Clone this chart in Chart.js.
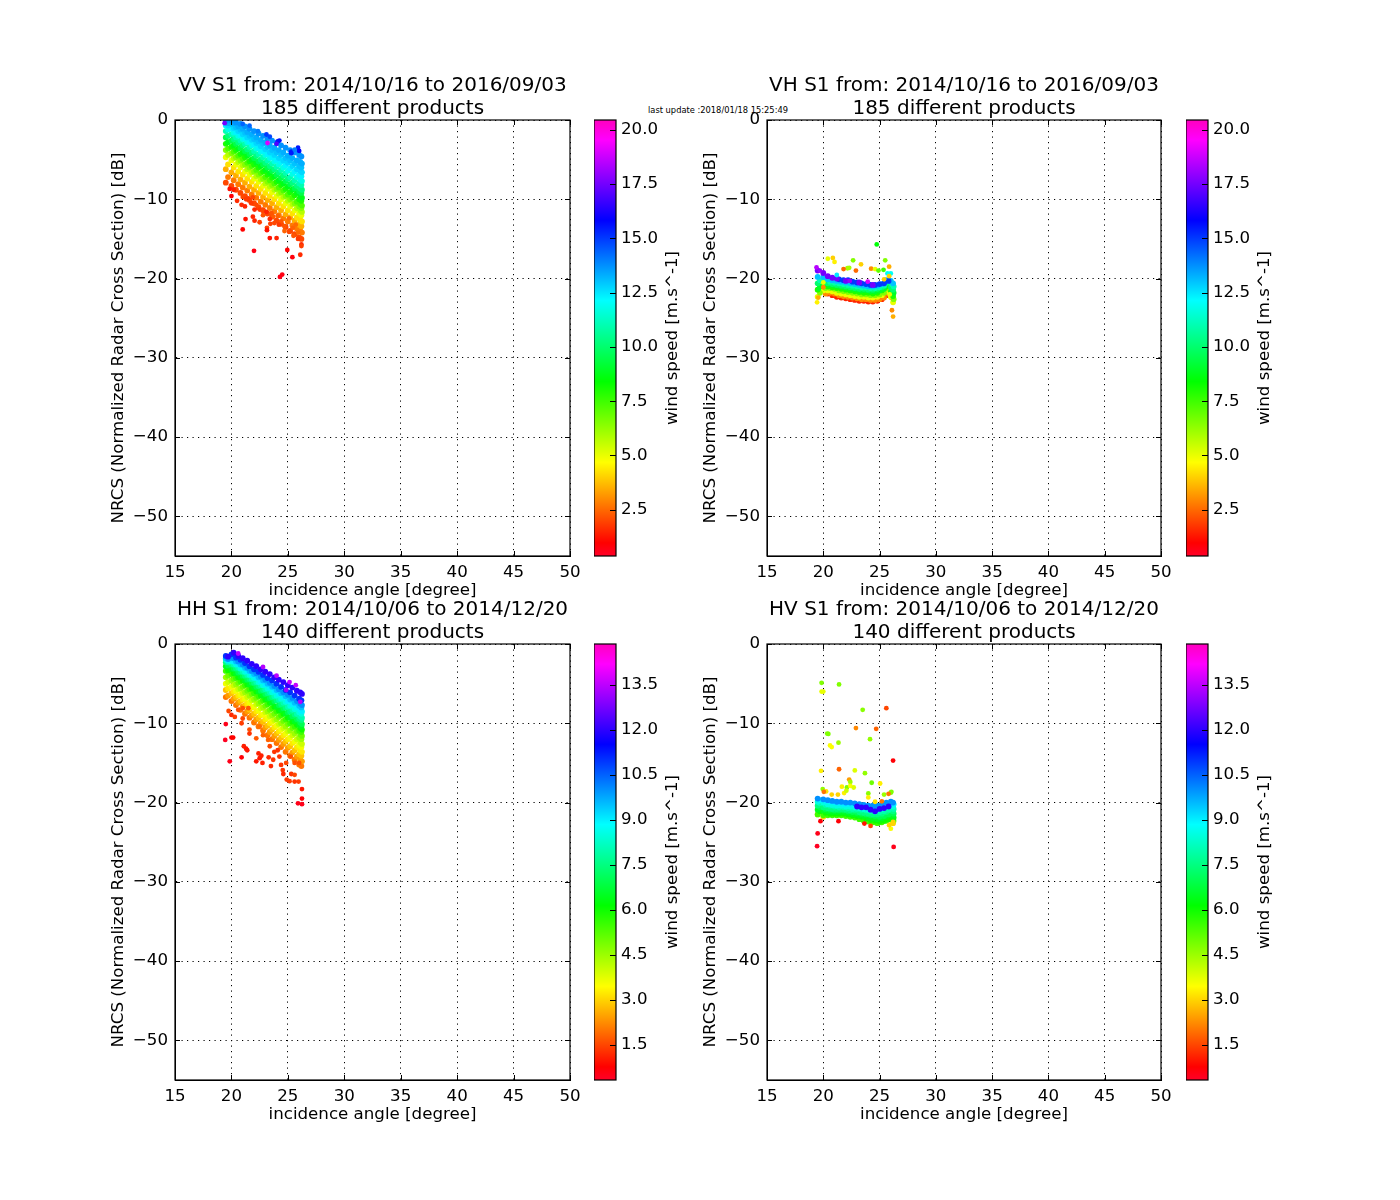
<!DOCTYPE html>
<html>
<head>
<meta charset="utf-8">
<title>S1 NRCS vs incidence angle</title>
<script src="https://cdn.jsdelivr.net/npm/chart.js@4"></script>
<style>
  body { margin: 0; background: #fff; }
  canvas { position: absolute; }
  #stamp { position: absolute; left: 648px; top: 105px; font: 8.3px "DejaVu Sans"; color: #000; white-space: nowrap; }
</style>
</head>
<body>
<div id="stamp">last update :2018/01/18 15:25:49</div>
<script>
const xTicks = [15, 20, 25, 30, 35, 40, 45, 50];
const yTicks = [0, -10, -20, -30, -40, -50];
const barTicksTop = [2.5, 5, 7.5, 10, 12.5, 15, 17.5, 20];
const barTicksBottom = [1.5, 3, 4.5, 6, 7.5, 9, 10.5, 12, 13.5];
const windRangeTop = [0.37, 20.45];
const windRangeBottom = [0.33, 14.87];

// incidence angle columns of the dense clouds, even rows use the first list, odd rows the second
const angles = [19.5, 20.0, 20.4, 20.8, 21.2, 21.6, 22.0, 22.4, 22.8, 23.2, 23.6, 24.0, 24.4, 24.8, 25.2, 25.6, 26.0, 26.2];
const anglesAlt = [19.7, 20.2, 20.6, 21.0, 21.4, 21.8, 22.2, 22.6, 23.0, 23.4, 23.8, 24.2, 24.6, 25.0, 25.4, 25.8, 26.1, 26.25];

// VV: one row per wind speed, one value per angle column
const vvWinds = [2, 2.75, 3.5, 4.25, 5, 5.75, 6.5, 7.25, 8, 8.75, 9.5, 10.25, 11, 11.75, 12.3, 12.7, 13, 13.3, 13.7];
const vvNrcs = [
  [-7.9, -8.3, -8.8, -9.2, -9.6, -10.1, -10.5, -11.0, -11.4, -11.8, -12.2, -12.7, -13.1, -13.5, -14.0, -14.4, -14.8, -15.0],
  [-7.2, -7.6, -8.1, -8.5, -8.9, -9.4, -9.8, -10.3, -10.7, -11.1, -11.5, -12.0, -12.4, -12.8, -13.3, -13.7, -14.0, -14.2],
  [-6.2, -6.6, -7.0, -7.5, -7.9, -8.4, -8.8, -9.2, -9.7, -10.1, -10.5, -11.0, -11.4, -11.9, -12.3, -12.7, -13.2, -13.4],
  [-5.6, -6.0, -6.5, -6.9, -7.4, -7.8, -8.3, -8.7, -9.2, -9.6, -10.0, -10.5, -10.9, -11.4, -11.8, -12.3, -12.6, -12.8],
  [-4.7, -5.1, -5.6, -6.0, -6.5, -6.9, -7.4, -7.8, -8.3, -8.7, -9.1, -9.6, -10.0, -10.5, -10.9, -11.4, -11.8, -12.0],
  [-4.4, -4.8, -5.3, -5.7, -6.2, -6.6, -7.1, -7.5, -8.0, -8.4, -8.8, -9.3, -9.7, -10.2, -10.6, -11.1, -11.4, -11.6],
  [-3.8, -4.2, -4.7, -5.1, -5.6, -6.0, -6.5, -6.9, -7.4, -7.8, -8.2, -8.7, -9.1, -9.6, -10.0, -10.5, -10.9, -11.1],
  [-3.6, -4.0, -4.5, -4.9, -5.4, -5.8, -6.3, -6.7, -7.2, -7.6, -8.0, -8.5, -8.9, -9.4, -9.8, -10.3, -10.6, -10.8],
  [-3.0, -3.4, -3.8, -4.3, -4.7, -5.2, -5.6, -6.0, -6.5, -6.9, -7.3, -7.8, -8.2, -8.7, -9.1, -9.5, -10.0, -10.2],
  [-2.8, -3.2, -3.6, -4.1, -4.5, -5.0, -5.4, -5.8, -6.3, -6.7, -7.1, -7.6, -8.0, -8.4, -8.8, -9.2, -9.6, -9.8],
  [-2.2, -2.6, -3.0, -3.5, -3.9, -4.3, -4.8, -5.2, -5.6, -6.0, -6.4, -6.9, -7.3, -7.7, -8.1, -8.6, -9.0, -9.2],
  [-2.0, -2.4, -2.8, -3.2, -3.7, -4.1, -4.5, -5.0, -5.4, -5.8, -6.2, -6.6, -7.0, -7.4, -7.9, -8.3, -8.6, -8.8],
  [-1.4, -1.8, -2.2, -2.6, -3.0, -3.4, -3.9, -4.3, -4.7, -5.1, -5.5, -5.9, -6.3, -6.7, -7.2, -7.6, -8.0, -8.2],
  [-1.2, -1.6, -2.0, -2.4, -2.8, -3.2, -3.6, -4.0, -4.4, -4.8, -5.2, -5.6, -6.0, -6.4, -6.8, -7.2, -7.5, -7.7],
  [-0.7, -1.1, -1.5, -1.9, -2.3, -2.7, -3.1, -3.5, -3.9, -4.3, -4.7, -5.0, -5.3, -5.7, -6.1, -6.5, -6.9, -7.1],
  [-0.7, -1.0, -1.4, -1.8, -2.2, -2.5, -2.9, -3.3, -3.7, -4.1, -4.4, -4.8, -5.1, -5.4, -5.8, -6.2, -6.4, -6.6],
  [-0.3, -0.5, -0.9, -1.2, -1.6, -2.0, -2.4, -2.7, -3.0, -3.4, -3.8, -4.1, -4.4, -4.8, -5.1, -5.5, -5.8, -6.0],
  [-0.4, -0.4, -0.8, -1.1, -1.5, -1.8, -2.2, -2.5, -2.8, -3.2, -3.5, -3.8, -4.1, -4.5, -4.8, -5.1, -5.3, -5.5],
  [-0.1, -0.1, -0.3, -0.5, -0.8, -1.1, -1.4, -1.7, -2.0, -2.3, -2.6, -2.9, -3.2, -3.5, -3.8, -4.1, -4.4, -4.6]
];
const vvStrayAngle = [19.85, 20.2, 20, 20.5, 20.9, 21.2, 21.5, 21.9, 21.75, 22.05, 22.5, 21.25, 21.9, 22.05, 22.5, 21, 22, 23.15, 23.15, 23.4, 24, 23.45, 23.8, 24.4, 24.7, 24.95, 25.4, 26.1, 26.2, 26.2, 24.3, 24.5, 25.9, 25.45, 25.7, 22.8, 23.7, 24.1, 25.1, 23.55, 21, 21.3, 22.2, 22.8, 23.1, 23.4, 24.2, 24.7, 25.1, 25.5, 25.9, 23.1, 23.4, 24.1, 24.25, 25.3, 25.9, 26, 25.6, 22.35, 21.6, 21, 19.4, 24, 23.2, 25.3];
const vvStrayNrcs = [-8.7, -8.8, -9.6, -10.2, -10.7, -10.9, -9.9, -9.75, -10.5, -11.3, -11.3, -12.5, -12.2, -12.7, -12.9, -13.8, -16.5, -13.6, -13.9, -14.9, -14.9, -13.1, -13, -12.8, -14, -16.4, -17.3, -17, -15.7, -15.9, -19.8, -19.5, -14.2, -13.6, -13.2, -12, -12.2, -12.1, -12.4, -11.75, -9.7, -10, -10.7, -11.3, -11.6, -12.5, -13.2, -13.4, -14.1, -14.6, -15, -1.83, -2.1, -2.7, -2.6, -4, -3.5, -3.9, -3.75, -1.4, -0.7, -0.5, -0.4, -3, -2.9, -4.2];
const vvStrayWind = [1.2, 1.4, 0.9, 1.6, 1.6, 1.5, 1.8, 2, 1.8, 1.5, 1.8, 1.2, 1.5, 1.5, 1.9, 1, 0.7, 1.9, 1.2, 1.2, 1.5, 1.9, 2, 2.2, 2.4, 1, 0.8, 1.6, 1.6, 1.9, 0.6, 0.7, 2.5, 2.4, 2.5, 2.2, 2.3, 2.4, 2.5, 2.2, 2, 1.8, 2, 2, 1.5, 1.6, 1.8, 2.2, 2, 2.2, 1.8, 15, 14.8, 15.5, 15.6, 15.5, 15.5, 15.8, 14, 14, 14.4, 14.4, 17.5, 17, 19, 15.5];

// VH
const vhWinds = [1.5, 3, 5, 6.5, 8, 9, 10, 11, 13, 15, 17.5];
const vhNrcs = [
  [null, null, -21.9, -22.1, -22.3, -22.4, -22.5, -22.6, -22.7, -22.8, -22.8, -22.9, -22.9, -22.8, -22.6, -22.1, null, null],
  [null, -21.9, -21.8, -21.9, -22.1, -22.2, -22.3, -22.4, -22.5, -22.6, -22.6, -22.7, -22.7, -22.6, -22.4, -21.9, -22.4, null],
  [-22.3, -21.5, -21.5, -21.6, -21.8, -21.9, -22.0, -22.1, -22.2, -22.3, -22.3, -22.4, -22.4, -22.3, -22.1, -21.6, -22.3, -23.0],
  [-21.8, -21.2, -21.2, -21.3, -21.5, -21.6, -21.7, -21.8, -21.9, -22.0, -22.0, -22.1, -22.1, -22.0, -21.8, -21.3, -22.0, -22.6],
  [-21.4, -20.9, -21.0, -21.1, -21.2, -21.3, -21.4, -21.5, -21.6, -21.7, -21.8, -21.8, -21.9, -21.8, -21.5, -21.0, -21.7, -22.2],
  [-21.0, -20.6, -20.8, -20.9, -21.0, -21.1, -21.2, -21.3, -21.4, -21.5, -21.5, -21.6, -21.6, -21.5, -21.3, -20.8, -21.4, -21.8],
  [-20.6, -20.3, -20.6, -20.7, -20.8, -20.9, -21.0, -21.1, -21.2, -21.3, -21.3, -21.4, -21.4, -21.3, -21.1, -20.6, -21.1, -21.4],
  [-20.2, -20.1, -20.4, -20.5, -20.6, -20.7, -20.8, -20.9, -21.0, -21.1, -21.1, -21.2, -21.2, -21.1, -20.9, -20.4, -20.7, -21.0],
  [-19.8, -19.8, -20.1, -20.2, -20.3, -20.4, -20.5, -20.6, -20.7, -20.8, -20.9, -21.0, -21.0, -20.9, -20.7, -20.2, -20.3, -20.6],
  [null, null, null, null, -20.1, -20.2, -20.2, -20.4, -20.5, -20.6, -20.7, -20.8, -20.8, -20.7, -20.6, -20.3, null, null],
  [-19.0, -19.3, -19.7, -19.9, -20.0, null, -20.3, null, null, -20.5, null, null, -20.8, null, null, null, null, null]
];
const vhStrayAngle = [24.75, 20.4, 20.85, 21, 22.65, 23.35, 25.5, 25.85, 22.3, 22.15, 21.8, 22.9, 24.25, 24.6, 24.9, 25.35, 25.7, 26, 25.85, 21.2, 22.35, 23.95, 25.4, 20, 19.45, 19.55, 26.1, 26.2, 25.9, 20, 19.6, 19.4, 19.7];
const vhStrayNrcs = [-15.7, -17.5, -17.4, -17.9, -17.7, -18.2, -17.7, -18.5, -18.65, -18.7, -18.8, -19, -18.75, -18.8, -19, -18.9, -19.35, -19.35, -19.7, -19.55, -20.3, -20.4, -20.1, -20.5, -23, -22.4, -24, -24.8, -22, -21.1, -21.3, -18.6, -19];
const vhStrayWind = [8.5, 5, 4, 4.5, 6.5, 4, 6.5, 3.5, 6, 6, 2.5, 2.5, 3, 5, 7, 7.5, 12, 12, 4, 12.5, 18, 19, 4, 5, 4.5, 3.5, 3, 3.5, 5, 3, 9, 18.5, 18];

// HH
const hhWinds = [2, 2.4, 2.8, 3.2, 3.6, 4, 4.5, 5, 5.5, 6, 6.5, 7, 7.5, 8, 8.5, 9, 9.5, 10, 11, 12];
const hhNrcs = [
  [-6.7, -7.2, -7.7, -8.3, -8.8, -9.3, -9.9, -10.4, -10.9, -11.5, -12.0, -12.5, -13.0, -13.6, -14.1, -14.6, -15.2, -15.4],
  [-6.5, -6.9, -7.4, -7.9, -8.5, -9.0, -9.5, -10.0, -10.5, -11.1, -11.6, -12.1, -12.6, -13.1, -13.7, -14.2, -14.6, -14.8],
  [-5.8, -6.2, -6.7, -7.2, -7.7, -8.3, -8.8, -9.3, -9.8, -10.3, -10.8, -11.3, -11.8, -12.3, -12.9, -13.4, -13.9, -14.1],
  [-5.6, -6.0, -6.5, -7.0, -7.5, -8.0, -8.5, -9.0, -9.5, -10.0, -10.5, -11.0, -11.5, -12.0, -12.5, -13.0, -13.4, -13.6],
  [-5.0, -5.4, -5.9, -6.4, -6.9, -7.4, -7.9, -8.4, -8.9, -9.3, -9.8, -10.3, -10.8, -11.3, -11.8, -12.3, -12.8, -13.0],
  [-4.8, -5.2, -5.7, -6.2, -6.7, -7.1, -7.6, -8.1, -8.6, -9.1, -9.6, -10.1, -10.6, -11.0, -11.5, -12.0, -12.4, -12.6],
  [-4.2, -4.6, -5.1, -5.6, -6.1, -6.5, -7.0, -7.5, -8.0, -8.5, -9.0, -9.5, -10.0, -10.4, -10.9, -11.3, -11.8, -12.0],
  [-4.0, -4.4, -4.9, -5.4, -5.9, -6.3, -6.8, -7.3, -7.8, -8.3, -8.8, -9.2, -9.7, -10.1, -10.6, -11.0, -11.4, -11.6],
  [-3.4, -3.8, -4.3, -4.7, -5.2, -5.7, -6.2, -6.6, -7.1, -7.6, -8.1, -8.5, -9.0, -9.5, -10.0, -10.4, -10.9, -11.1],
  [-3.3, -3.7, -4.2, -4.6, -5.1, -5.6, -6.0, -6.5, -7.0, -7.4, -7.9, -8.4, -8.8, -9.3, -9.8, -10.2, -10.6, -10.8],
  [-2.8, -3.2, -3.7, -4.1, -4.6, -5.1, -5.5, -6.0, -6.5, -6.9, -7.4, -7.9, -8.3, -8.8, -9.3, -9.7, -10.2, -10.4],
  [-2.7, -3.1, -3.6, -4.0, -4.5, -4.9, -5.4, -5.9, -6.3, -6.8, -7.2, -7.7, -8.1, -8.6, -9.1, -9.5, -9.9, -10.1],
  [-2.3, -2.6, -3.1, -3.5, -4.0, -4.4, -4.9, -5.3, -5.8, -6.2, -6.7, -7.1, -7.6, -8.0, -8.5, -8.9, -9.4, -9.6],
  [-2.3, -2.6, -3.0, -3.5, -3.9, -4.4, -4.8, -5.2, -5.7, -6.1, -6.6, -7.0, -7.4, -7.9, -8.3, -8.8, -9.1, -9.3],
  [-2.0, -2.2, -2.6, -3.1, -3.5, -3.9, -4.3, -4.8, -5.2, -5.6, -6.1, -6.5, -6.9, -7.3, -7.8, -8.2, -8.6, -8.8],
  [-2.1, -2.2, -2.6, -3.0, -3.4, -3.9, -4.3, -4.7, -5.1, -5.5, -5.9, -6.3, -6.7, -7.2, -7.6, -8.0, -8.3, -8.5],
  [-1.8, -1.8, -2.2, -2.6, -3.0, -3.4, -3.8, -4.2, -4.6, -5.0, -5.4, -5.8, -6.2, -6.6, -7.0, -7.4, -7.8, -8.0],
  [-1.9, -1.8, -2.2, -2.6, -3.0, -3.4, -3.7, -4.1, -4.5, -4.9, -5.3, -5.7, -6.1, -6.4, -6.8, -7.2, -7.5, -7.7],
  [-1.5, -1.3, -1.7, -2.0, -2.4, -2.8, -3.2, -3.5, -3.9, -4.3, -4.6, -5.0, -5.4, -5.8, -6.1, -6.5, -6.9, -7.1],
  [-1.6, -1.1, -1.5, -1.8, -2.1, -2.5, -2.8, -3.2, -3.5, -3.8, -4.2, -4.5, -4.8, -5.2, -5.5, -5.9, -6.1, -6.3]
];
const hhStrayAngle = [19.5, 19.45, 20, 20.15, 19.85, 20.9, 21.1, 21.3, 21.4, 22.2, 22.4, 22.5, 22.65, 22.75, 23.3, 23.5, 23.7, 23.4, 23.8, 24.1, 24.25, 24.4, 24.55, 24.6, 24.85, 24.9, 25.15, 25.3, 25.6, 25.95, 25.6, 26.25, 26.25, 25.9, 26.25, 26, 25.6, 25.25, 19.75, 20, 20.3, 20.6, 21, 21.5, 21, 21.6, 21.6, 20.9, 22.2, 22.8, 23.25, 22.5, 20.6, 22.8, 24, 25.15, 25.7, 26.1, 24.85];
const hhStrayNrcs = [-10.1, -12.1, -11.8, -11.8, -14.8, -14.3, -12.9, -13.2, -13.4, -14.8, -13.8, -14.4, -14.1, -15, -14.3, -15.4, -14.6, -12.9, -13.6, -13.4, -14.2, -15.25, -15.9, -16.4, -15, -17.1, -17.3, -16.4, -16.5, -17.35, -17.35, -18.3, -19.5, -20.1, -20.2, -15, -15, -14.2, -8.45, -8.95, -9.2, -8.3, -8.1, -8.1, -9.4, -10.8, -11.3, -10, -11.9, -11.5, -12.1, -10.4, -1.2, -2.9, -4, -4.8, -5.2, -7.3, -5.8];
const hhStrayWind = [0.5, 0.4, 0.8, 0.8, 0.5, 0.7, 1.1, 1, 1, 1, 1.1, 1, 1.1, 1.1, 1.2, 1.2, 1.3, 1.5, 1.3, 1.3, 1.3, 1.3, 1.3, 1.2, 1.5, 1.4, 1.4, 1.3, 1.5, 1.4, 1.3, 1, 0.7, 0.5, 0.5, 1.6, 1.6, 1.6, 1.5, 1.2, 1.4, 1.6, 1.6, 1.7, 1.5, 1.6, 1.3, 1.4, 1.7, 1.8, 1.8, 1.9, 13.5, 13.4, 13.5, 13.6, 13.6, 13.4, 13.2];

// HV
const hvWinds = [3, 4.5, 5.5, 6, 6.5, 7, 7.5, 8, 8.5, 9, 10, 12];
const hvNrcs = [
  [-21.5, -21.8, null, null, null, null, null, null, null, null, null, null, null, null, null, null, -22.2, -22.6],
  [-21.0, -21.3, -21.4, -21.5, -21.5, -21.5, -21.6, -21.7, -21.8, -22.0, -22.2, -22.4, -22.5, -22.5, -22.3, -22.1, -21.9, -22.3],
  [-21.5, -21.6, -21.6, -21.6, -21.6, -21.6, -21.7, -21.8, -21.9, -22.1, -22.3, -22.4, -22.5, -22.6, -22.5, -22.3, -22.0, -22.2],
  [-21.1, -21.3, -21.4, -21.4, -21.4, -21.4, -21.5, -21.6, -21.7, -21.8, -22.0, -22.2, -22.3, -22.4, -22.3, -22.1, -21.8, -21.9],
  [-20.9, -21.0, -21.1, -21.2, -21.2, -21.2, -21.3, -21.4, -21.5, -21.6, -21.7, -21.9, -22.0, -22.1, -22.0, -21.8, -21.6, -21.7],
  [-20.6, -20.8, -20.9, -21.0, -21.0, -21.0, -21.1, -21.2, -21.3, -21.4, -21.5, -21.6, -21.7, -21.8, -21.7, -21.5, -21.3, -21.4],
  [-20.4, -20.6, -20.7, -20.8, -20.8, -20.8, -20.9, -21.0, -21.0, -21.2, -21.3, -21.4, -21.5, -21.5, -21.4, -21.2, -21.0, -21.1],
  [-20.1, -20.3, -20.4, -20.5, -20.6, -20.6, -20.7, -20.8, -20.8, -20.9, -21.0, -21.1, -21.2, -21.2, -21.1, -20.9, -20.7, -20.8],
  [-19.9, -20.0, -20.2, -20.3, -20.4, -20.4, -20.5, -20.5, -20.6, -20.7, -20.8, -20.9, -20.9, -20.9, -20.8, -20.6, -20.4, -20.5],
  [-19.7, -19.8, -19.9, -20.0, -20.1, -20.2, -20.2, -20.3, -20.4, -20.5, -20.6, -20.6, -20.7, -20.7, -20.6, -20.3, -20.1, -20.2],
  [-19.5, -19.6, -19.7, -19.8, -19.9, -19.9, -20.0, -20.0, -20.1, -20.2, -20.3, -20.4, -20.4, -20.4, -20.3, -20.0, -19.9, -20.0],
  [null, null, null, null, null, null, null, null, -20.5, -20.6, -20.6, -20.9, -21.1, -20.8, -20.7, -20.5, null, null]
];
const hvStrayAngle = [19.85, 19.85, 20, 21.4, 23.5, 25.6, 22.9, 24.7, 20.45, 20.35, 24.15, 21.35, 20.6, 20.75, 26.2, 19.8, 21.4, 22.8, 23.7, 22.3, 22.4, 25.05, 24.3, 21.65, 22.1, 22.4, 22.7, 19.95, 20.25, 20.05, 21.85, 22.05, 20.75, 21.3, 24, 24, 25.4, 26, 26.05, 25.8, 25.2, 24.6, 19.75, 21.35, 19.5, 19.45, 26.25, 23.65, 24.2, 26, 26.2, 25.85];
const hvStrayNrcs = [-4.9, -6, -6, -5.1, -8.3, -8.1, -10.6, -10.7, -11.35, -11.3, -12, -12.45, -12.8, -13, -14.7, -16, -15.8, -15.95, -16.3, -17.1, -17.4, -17.6, -17.5, -18, -18.1, -17.9, -18.1, -18.3, -18.6, -18.65, -18.8, -18.5, -19, -19, -18.85, -19.35, -19, -18.75, -18.65, -18.9, -19.85, -19.9, -22.35, -22.35, -23.9, -25.5, -25.6, -22.65, -22.95, -23.3, -22.45, -22.85];
const hvStrayWind = [4.8, 3.7, 3.7, 4.8, 4.7, 1.5, 2.2, 1.8, 4.8, 4.8, 4.6, 4.5, 3.5, 3.5, 0.7, 3.3, 1.8, 3.8, 4.6, 2.4, 4.5, 3.3, 5, 3.3, 4.8, 3.5, 3.8, 4.6, 3.2, 2, 3.3, 4, 3, 3, 4.7, 3.3, 4.5, 4.8, 4.8, 2, 2, 3.2, 0.7, 0.7, 0.5, 0.4, 0.5, 1, 1.5, 3.5, 3, 3];

// matplotlib gist_rainbow
const cmapStops = [
  [0, 255, 0, 41], [0.03, 255, 0, 0], [0.215, 255, 255, 0], [0.4, 0, 255, 0],
  [0.586, 0, 255, 255], [0.77, 0, 0, 255], [0.954, 255, 0, 255], [1, 255, 0, 191]
];

function cmapColor(t) {
  t = Math.min(1, Math.max(0, t));
  for (let i = 1; i < cmapStops.length; i++) {
    const a = cmapStops[i - 1], b = cmapStops[i];
    if (t <= b[0]) {
      const f = (t - a[0]) / (b[0] - a[0]);
      return 'rgb(' + [1, 2, 3].map(k => Math.round(a[k] + (b[k] - a[k]) * f)).join(',') + ')';
    }
  }
}

function collectPoints(winds, table, strayAngle, strayNrcs, strayWind) {
  const pts = [];
  table.forEach((row, r) => {
    const cols = r % 2 ? anglesAlt : angles;
    row.forEach((v, c) => {
      if (v !== null) pts.push({ x: cols[c], y: v, wind: winds[r], stray: false });
    });
  });
  strayAngle.forEach((a, i) => pts.push({ x: a, y: strayNrcs[i], wind: strayWind[i], stray: true }));
  return pts;
}

const FONT = '"DejaVu Sans"';
const minus = v => String(v).replace('-', '\u2212');

function addCanvas(left, top, width, height) {
  const c = document.createElement('canvas');
  c.width = width;
  c.height = height;
  c.style.left = left + 'px';
  c.style.top = top + 'px';
  document.body.appendChild(c);
  return c;
}

// matplotlib draws its ticks inside the frame, and a full box
const frameAndTicks = {
  id: 'frameAndTicks',
  afterDatasetsDraw(chart, args, opts) {
    const { ctx, chartArea: a, scales } = chart;
    const len = opts.len;
    ctx.save();
    ctx.strokeStyle = '#000';
    ctx.lineWidth = 1;
    ctx.beginPath();
    if (scales.x && opts.xTicks) {
      scales.x.ticks.forEach(t => {
        const p = Math.round(scales.x.getPixelForValue(t.value)) + 0.5;
        ctx.moveTo(p, a.bottom); ctx.lineTo(p, a.bottom - len);
        ctx.moveTo(p, a.top); ctx.lineTo(p, a.top + len);
      });
    }
    scales.y.ticks.forEach(t => {
      const p = Math.round(scales.y.getPixelForValue(t.value)) + 0.5;
      if (opts.leftTicks) { ctx.moveTo(a.left, p); ctx.lineTo(a.left + len, p); }
      ctx.moveTo(a.right, p); ctx.lineTo(a.right - len, p);
    });
    ctx.stroke();
    ctx.lineWidth = 1.2;
    ctx.strokeRect(a.left, a.top, a.right - a.left, a.bottom - a.top);
    ctx.restore();
  }
};

function drawPanel(left, top, width, titleLines, points, range) {
  // symmetric canvas, with an empty right axis, so the centred title sits over the axes
  const canvas = addCanvas(left - 75, top - 46, width + 150, 532);
  new Chart(canvas, {
    type: 'scatter',
    data: {
      datasets: [{
        data: points,
        pointRadius: points.map(p => (p.stray ? 2.4 : 2.9)),
        pointBorderWidth: 0,
        pointBackgroundColor: points.map(p => cmapColor((p.wind - range[0]) / (range[1] - range[0])))
      }]
    },
    options: {
      responsive: false,
      animation: false,
      layout: { autoPadding: false, padding: 0 },
      plugins: {
        legend: { display: false },
        tooltip: { enabled: false },
        title: {
          display: true,
          text: titleLines,
          color: '#000',
          font: { family: FONT, size: 20, weight: 'normal', lineHeight: '23px' },
          padding: { top: 0, bottom: 0 }
        },
        frameAndTicks: { len: 5, xTicks: true, leftTicks: true }
      },
      scales: {
        x: {
          type: 'linear',
          min: 15,
          max: 50,
          afterBuildTicks: s => { s.ticks = xTicks.map(v => ({ value: v })); },
          afterFit: s => { s.height = 50; },
          ticks: { color: '#000', padding: 7, maxRotation: 0, font: { family: FONT, size: 16.67 } },
          grid: { color: '#000', lineWidth: 1, tickLength: 0, drawTicks: false },
          border: { color: '#000', dash: [1.2, 4.3] },
          title: {
            display: true,
            text: 'incidence angle [degree]',
            color: '#000',
            font: { family: FONT, size: 16.67 },
            padding: { top: 0, bottom: 5 }
          }
        },
        y: {
          type: 'linear',
          min: -55,
          max: 0,
          afterBuildTicks: s => { s.ticks = yTicks.map(v => ({ value: v })); },
          afterFit: s => { s.width = 75; },
          ticks: { color: '#000', padding: 7, callback: minus, font: { family: FONT, size: 16.67 } },
          grid: { color: '#000', lineWidth: 1, tickLength: 0, drawTicks: false },
          border: { color: '#000', dash: [1.2, 4.3] },
          title: {
            display: true,
            text: 'NRCS (Normalized Radar Cross Section) [dB]',
            color: '#000',
            font: { family: FONT, size: 16.67 },
            padding: { top: 9, bottom: 0 }
          }
        },
        spacer: {
          type: 'linear',
          axis: 'y',
          position: 'right',
          afterFit: s => { s.width = 75; },
          ticks: { display: false },
          grid: { display: false },
          border: { display: false }
        }
      }
    },
    plugins: [frameAndTicks]
  });
}

// rotated the same way as the left axis title, which a right-hand scale title is not
const windLabel = {
  id: 'windLabel',
  afterDraw(chart) {
    const { ctx, chartArea: a } = chart;
    ctx.save();
    ctx.translate(a.right + 57, (a.top + a.bottom) / 2);
    ctx.rotate(-Math.PI / 2);
    ctx.font = '16.67px ' + FONT;
    ctx.fillStyle = '#000';
    ctx.textAlign = 'center';
    ctx.textBaseline = 'middle';
    ctx.fillText('wind speed [m.s^-1]', 0, 0);
    ctx.restore();
  }
};

function drawColorbar(left, top, ticks, range) {
  const canvas = addCanvas(left, top - 5, 110, 446);
  new Chart(canvas, {
    type: 'bar',
    data: {
      labels: ['wind'],
      datasets: [{
        data: [range],
        barPercentage: 1,
        categoryPercentage: 1,
        borderWidth: 0,
        backgroundColor: ctx => {
          const a = ctx.chart.chartArea;
          if (!a) return '#fff';
          const g = ctx.chart.ctx.createLinearGradient(0, a.bottom, 0, a.top);
          cmapStops.forEach(s => g.addColorStop(s[0], `rgb(${s[1]},${s[2]},${s[3]})`));
          return g;
        }
      }]
    },
    options: {
      responsive: false,
      animation: false,
      layout: { autoPadding: false, padding: { left: 0, top: 5, right: 0, bottom: 5 } },
      plugins: {
        legend: { display: false },
        tooltip: { enabled: false },
        frameAndTicks: { len: 6, xTicks: false, leftTicks: false }
      },
      scales: {
        x: { display: false },
        y: {
          position: 'right',
          type: 'linear',
          min: range[0],
          max: range[1],
          afterBuildTicks: s => { s.ticks = ticks.map(v => ({ value: v })); },
          afterFit: s => { s.width = 88; s.paddingTop = 0; s.paddingBottom = 0; },
          ticks: { color: '#000', padding: 5, callback: v => v.toFixed(1), font: { family: FONT, size: 16.67 } },
          grid: { display: false, drawTicks: false, tickLength: 0 },
          border: { display: false }
        }
      }
    },
    plugins: [frameAndTicks, windLabel]
  });
}

const vvPoints = collectPoints(vvWinds, vvNrcs, vvStrayAngle, vvStrayNrcs, vvStrayWind);
const vhPoints = collectPoints(vhWinds, vhNrcs, vhStrayAngle, vhStrayNrcs, vhStrayWind);
const hhPoints = collectPoints(hhWinds, hhNrcs, hhStrayAngle, hhStrayNrcs, hhStrayWind);
const hvPoints = collectPoints(hvWinds, hvNrcs, hvStrayAngle, hvStrayNrcs, hvStrayWind);

drawPanel(175, 120, 395, ['VV S1 from: 2014/10/16 to 2016/09/03', '185 different products'], vvPoints, windRangeTop);
drawPanel(767, 120, 394, ['VH S1 from: 2014/10/16 to 2016/09/03', '185 different products'], vhPoints, windRangeTop);
drawPanel(175, 644, 395, ['HH S1 from: 2014/10/06 to 2014/12/20', '140 different products'], hhPoints, windRangeBottom);
drawPanel(767, 644, 394, ['HV S1 from: 2014/10/06 to 2014/12/20', '140 different products'], hvPoints, windRangeBottom);

drawColorbar(594, 120, barTicksTop, windRangeTop);
drawColorbar(1186, 120, barTicksTop, windRangeTop);
drawColorbar(594, 644, barTicksBottom, windRangeBottom);
drawColorbar(1186, 644, barTicksBottom, windRangeBottom);
</script>
</body>
</html>
